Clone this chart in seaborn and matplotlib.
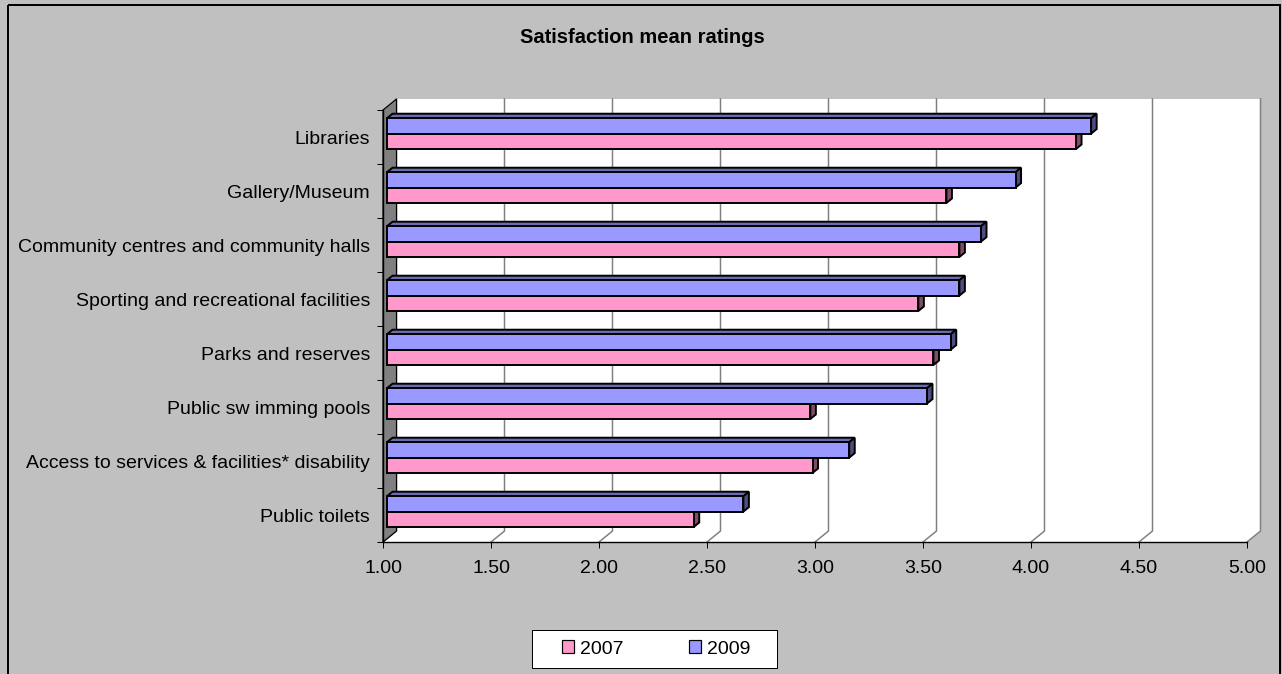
import matplotlib
matplotlib.use("Agg")
import matplotlib.pyplot as plt
import seaborn as sns
import pandas as pd
import numpy as np
from matplotlib.patches import Polygon, Rectangle, Patch
from matplotlib.lines import Line2D
from matplotlib.transforms import IdentityTransform, Affine2D
from matplotlib.colors import to_hex, to_rgb

# ---------------- data ----------------
categories = [
    "Libraries",
    "Gallery/Museum",
    "Community centres and community halls",
    "Sporting and recreational facilities",
    "Parks and reserves",
    "Public sw imming pools",
    "Access to services & facilities* disability",
    "Public toilets",
]
ratings_2007 = [4.19, 3.59, 3.65, 3.46, 3.53, 2.96, 2.97, 2.42]
ratings_2009 = [4.26, 3.91, 3.75, 3.65, 3.61, 3.50, 3.14, 2.65]
years = ["2007", "2009"]
x_ticks = [1.0, 1.5, 2.0, 2.5, 3.0, 3.5, 4.0, 4.5, 5.0]
x_tick_labels = ["1.00", "1.50", "2.00", "2.50", "3.00", "3.50", "4.00", "4.50", "5.00"]
title = "Satisfaction mean ratings"

# ---------------- style ----------------
plt.rcParams["font.family"] = ["Liberation Sans", "DejaVu Sans"]
pal = {"2007": "#FF99CC", "2009": "#9999FF"}
W, H = 1282, 674
PX = 72 / 100  # points per pixel

fig = plt.figure(figsize=(W / 100, H / 100), dpi=100, facecolor="#C0C0C0")
img = Affine2D().scale(1, -1).translate(0, H)  # image pixel coords -> display

# outer border
fig.add_artist(Rectangle((8, 5), 1272, 700, fill=False, edgecolor="black",
                         linewidth=2 * PX, transform=img))

df = pd.DataFrame({
    "category": categories * 2,
    "year": ["2007"] * len(categories) + ["2009"] * len(categories),
    "rating": ratings_2007 + ratings_2009,
})

ax = fig.add_axes([383 / W, (H - 542) / H, 864 / W, 432 / H])
ax.set_facecolor("none")
sns.barplot(data=df, y="category", x="rating", hue="year", hue_order=["2009", "2007"],
            order=categories, palette=pal, orient="h", width=0.57, errorbar=None,
            edgecolor="black", linewidth=1.4, saturation=1, legend=False, ax=ax)
bars = list(ax.patches)

n = len(categories)
ax.set_xlim(1, 5)
ax.set_ylim(n - 0.5, -0.5)
ax.set_xlabel("")
ax.set_ylabel("")
ax.grid(False)
for s in ["top", "right"]:
    ax.spines[s].set_visible(False)
for s in ["left", "bottom"]:
    ax.spines[s].set_color("black")
    ax.spines[s].set_linewidth(1.4 * PX)

ax.set_xticks(x_ticks)
ax.set_xticklabels(x_tick_labels)
ax.tick_params(axis="x", length=6 * PX, width=1 * PX, color="black", pad=12 * PX,
               labelsize=14, labelcolor="black")
ax.set_yticks(np.arange(-0.5, n, 1.0), minor=True)
ax.tick_params(axis="y", which="major", length=0, pad=13 * PX, labelsize=14, labelcolor="black")
ax.tick_params(axis="y", which="minor", length=6 * PX, width=1 * PX, color="black")

tD = ax.transData
def disp(x, y):
    return np.array(tD.transform((x, y)))

# 3D walls
B = np.array([13.5, 11.0])
fl, fr, tl = disp(1, n - 0.5), disp(5, n - 0.5), disp(1, -0.5)
ID = IdentityTransform()
def addpoly(pts, fc, ec="none", lw=0, z=0.5):
    p = Polygon(pts, closed=True, facecolor=fc, edgecolor=ec, linewidth=lw,
                transform=ID, zorder=z)
    ax.add_patch(p)
    p.set_clip_on(False)
    return p

addpoly([fl + B, fr + B, np.array([fr[0], tl[1]]) + B, tl + B], "white", z=0.3)
addpoly([fl, fr, fr + B, fl + B], "white", z=0.3)
addpoly([fl, tl, tl + B, fl + B], "#808080", ec="black", lw=1.2 * PX, z=0.6)

# gridlines on back wall and floor
for v in x_ticks:
    f = disp(v, n - 0.5)
    b = f + B
    t = disp(v, -0.5) + B
    ln = Line2D([f[0], b[0], t[0]], [f[1], b[1], t[1]], color="#808080",
                linewidth=1.5 * PX, transform=ID, zorder=0.4)
    ax.add_line(ln)
    ln.set_clip_on(False)

# 3D bars
offx, offy = 4.0, 3.4
dx, dy = 5.5, 4.5
bar_off = Affine2D().translate(offx, offy)
for p in bars:
    col = to_hex(p.get_facecolor())
    is09 = col.lower() == pal["2009"].lower()
    val = p.get_width()
    y0, h = p.get_y(), p.get_height()
    p.set_x(1.0)
    p.set_width(val - 1.0)
    p.set_transform(tD + bar_off)
    p.set_clip_on(False)
    p.set_zorder(2.9 if is09 else 2.7)
    a = disp(1.0, y0)
    c = disp(val, y0 + h)
    top = max(a[1], c[1]) + offy
    bot = min(a[1], c[1]) + offy
    xl, xr = a[0] + offx, c[0] + offx
    rgb = np.array(to_rgb(col))
    zf = 2.8 if is09 else 2.6
    addpoly([(xl, top), (xr, top), (xr + dx, top + dy), (xl + dx, top + dy)],
            tuple(rgb * 0.7), ec="black", lw=1.4, z=zf)
    addpoly([(xr, bot), (xr, top), (xr + dx, top + dy), (xr + dx, bot + dy)],
            tuple(rgb * 0.5), ec="black", lw=1.4, z=zf)

# title
fig.text(642 / W, 1 - 42.7 / H, title, ha="center", va="baseline", fontsize=14.5,
         fontweight="bold", color="black")

# legend
fig.add_artist(Rectangle((531.5, 630), 245, 38, facecolor="white", edgecolor="black",
                         linewidth=1 * PX, transform=img, zorder=1))
handles = [Patch(facecolor=pal[y], edgecolor="black", linewidth=1.2 * PX) for y in years]
fig.legend(handles, years, ncol=2, loc="center", bbox_to_anchor=(656 / W, 1 - 649 / H),
           frameon=False, fontsize=14, handlelength=0.62, handleheight=0.62,
           handletextpad=0.3, columnspacing=3.4, borderpad=0.2)

fig.savefig("out.png", dpi=100, facecolor=fig.get_facecolor())
